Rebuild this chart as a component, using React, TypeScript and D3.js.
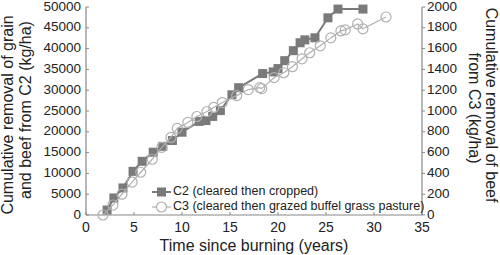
import React from "react";
import * as d3 from "d3";

const c2Years = [2.2, 2.9, 3.85, 4.9, 5.85, 7.0, 8.0, 9.0, 10.0, 11.8, 12.5, 13.2, 14.0, 15.2, 15.9, 18.4, 19.5, 20.0, 20.7, 21.6, 22.3, 22.8, 23.85, 25.2, 26.25, 28.85];
const c2Values = [1200, 4100, 6500, 10500, 12900, 15100, 16500, 17900, 19900, 22500, 22700, 23700, 25100, 28900, 30600, 34000, 34400, 35200, 37100, 39500, 41400, 42100, 42600, 47400, 49500, 49500];

const c3Years = [1.77, 2.8, 3.75, 4.8, 5.7, 6.9, 7.9, 8.85, 9.5, 10.6, 11.55, 12.6, 13.3, 14.2, 15.7, 16.9, 18.1, 18.3, 19.6, 20.6, 21.5, 22.5, 23.3, 24.4, 25.5, 26.55, 27.0, 28.3, 28.85, 31.25];
const c3Values = [0, 96, 200, 316, 411, 536, 651, 746, 833, 890, 947, 995, 1034, 1081, 1148, 1206, 1225, 1215, 1321, 1368, 1426, 1502, 1560, 1627, 1703, 1770, 1780, 1837, 1790, 1904];

const xTicks = [0, 5, 10, 15, 20, 25, 30, 35];
const leftTicks = [0, 5000, 10000, 15000, 20000, 25000, 30000, 35000, 40000, 45000, 50000];
const rightTicks = [0, 200, 400, 600, 800, 1000, 1200, 1400, 1600, 1800, 2000];

const xTitle = "Time since burning (years)";
const leftTitle = ["Cumulative removal of grain", "and beef from C2 (kg/ha)"];
const rightTitle = ["Cumulative removal of beef", "from C3 (kg/ha)"];
const legendLabels = ["C2 (cleared then cropped)", "C3 (cleared then grazed buffel grass pasture)"];

const W = 500, H = 255;
const L = 86, R = 422, T = 7, B = 215;
const FONT = "'Liberation Sans', Arial, Helvetica, sans-serif";
const AXIS = "#888";
const TEXT = "#222";
const C2COL = "#7a7a7a";
const C3COL = "#b0b0b0";

export default function App() {
  const x = d3.scaleLinear().domain([0, 35]).range([L, R]);
  const yL = d3.scaleLinear().domain([0, 50000]).range([B, T]);
  const yR = d3.scaleLinear().domain([0, 2000]).range([B, T]);

  const c2 = c2Years.map((t, i) => [t, c2Values[i]] as [number, number]);
  const c3 = c3Years.map((t, i) => [t, c3Values[i]] as [number, number]);

  const line2 = d3.line<[number, number]>().x(d => x(d[0])).y(d => yL(d[1]));
  const line3 = d3.line<[number, number]>().x(d => x(d[0])).y(d => yR(d[1]));

  const sq = 9;
  const legX = 152, legX2 = 171, legMid = 161.5;
  const legY1 = 192, legY2 = 207;

  return (
    <svg width={W} height={H} style={{ position: "absolute", left: 0, top: 0, fontFamily: FONT }}>
      <rect width={W} height={H} fill="#fff" />
      {/* axes */}
      <line x1={L} x2={L} y1={T} y2={B} stroke={AXIS} strokeWidth={1.2} />
      <line x1={R} x2={R} y1={T} y2={B} stroke={AXIS} strokeWidth={1.2} />
      <line x1={L} x2={R} y1={B} y2={B} stroke={AXIS} strokeWidth={1.2} />
      {xTicks.map(t => (
        <g key={"x" + t}>
          <line x1={x(t)} x2={x(t)} y1={B} y2={B - 3} stroke={AXIS} />
          <text x={x(t)} y={B + 13} fontSize={14} textAnchor="middle" dominantBaseline="middle" fill={TEXT}>{t}</text>
        </g>
      ))}
      {leftTicks.map(t => (
        <g key={"l" + t}>
          <line x1={L} x2={L + 3} y1={yL(t)} y2={yL(t)} stroke={AXIS} />
          <text x={L - 5} y={yL(t)} fontSize={13.5} textAnchor="end" dominantBaseline="middle" fill={TEXT}>{t}</text>
        </g>
      ))}
      {rightTicks.map(t => (
        <g key={"r" + t}>
          <line x1={R} x2={R + 3} y1={yR(t)} y2={yR(t)} stroke={AXIS} />
          <text x={R + 5} y={yR(t)} fontSize={13.5} textAnchor="start" dominantBaseline="middle" fill={TEXT}>{t}</text>
        </g>
      ))}
      {/* titles */}
      <text x={254} y={247} fontSize={16} textAnchor="middle" dominantBaseline="middle" fill={TEXT}>{xTitle}</text>
      <text transform={`translate(9,115) rotate(-90)`} fontSize={16} textAnchor="middle" dominantBaseline="middle" fill={TEXT}>{leftTitle[0]}</text>
      <text transform={`translate(27,110) rotate(-90)`} fontSize={16} textAnchor="middle" dominantBaseline="middle" fill={TEXT}>{leftTitle[1]}</text>
      <text transform={`translate(490,105) rotate(90)`} fontSize={16} textAnchor="middle" dominantBaseline="middle" fill={TEXT}>{rightTitle[0]}</text>
      <text transform={`translate(473,108) rotate(90)`} fontSize={16} textAnchor="middle" dominantBaseline="middle" fill={TEXT}>{rightTitle[1]}</text>

      {/* C2 series */}
      <path d={line2(c2) || ""} fill="none" stroke={C2COL} strokeWidth={2} />
      {c2.map((d, i) => (
        <rect key={"s" + i} x={x(d[0]) - sq / 2} y={yL(d[1]) - sq / 2} width={sq} height={sq} fill={C2COL} />
      ))}
      {/* C3 series */}
      <path d={line3(c3) || ""} fill="none" stroke={C3COL} strokeWidth={1.2} />
      {c3.map((d, i) => (
        <circle key={"c" + i} cx={x(d[0])} cy={yR(d[1])} r={5} fill="none" stroke={C3COL} strokeWidth={1.2} />
      ))}

      {/* legend */}
      <line x1={legX} x2={legX2} y1={legY1} y2={legY1} stroke={C2COL} strokeWidth={2} />
      <rect x={legMid - sq / 2} y={legY1 - sq / 2} width={sq} height={sq} fill={C2COL} />
      <text x={173} y={legY1} fontSize={12.5} dominantBaseline="middle" fill={TEXT}>{legendLabels[0]}</text>
      <line x1={legX} x2={legX2} y1={legY2} y2={legY2} stroke={C3COL} strokeWidth={1.2} />
      <circle cx={legMid} cy={legY2} r={5} fill="#fff" stroke={C3COL} strokeWidth={1.2} />
      <text x={173} y={legY2} fontSize={12.5} dominantBaseline="middle" fill={TEXT}>{legendLabels[1]}</text>
    </svg>
  );
}
